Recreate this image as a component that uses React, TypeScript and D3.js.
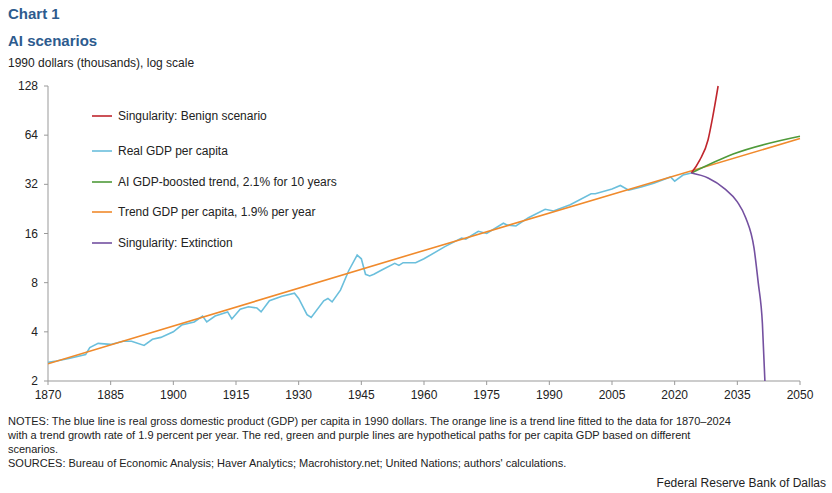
import * as d3 from "d3";
import React from "react";

const yearsReal = [1870,1872,1875,1879,1880,1882,1885,1888,1890,1893,1895,1897,1900,1902,1905,1907,1908,1910,1913,1914,1916,1918,1920,1921,1923,1926,1929,1930,1932,1933,1936,1937,1938,1940,1942,1944,1945,1946,1947,1948,1950,1953,1954,1955,1958,1960,1965,1969,1970,1973,1975,1979,1980,1982,1985,1989,1991,1995,2000,2001,2005,2007,2009,2012,2015,2019,2020,2022,2024];
const realGdp = [2.6,2.65,2.75,2.9,3.2,3.4,3.35,3.5,3.5,3.3,3.6,3.7,4.0,4.4,4.6,5.0,4.6,5.0,5.3,4.8,5.5,5.7,5.6,5.3,6.2,6.6,6.9,6.4,5.1,4.9,6.2,6.4,6.1,7.2,9.5,11.8,11.2,9.0,8.8,9.0,9.6,10.5,10.2,10.6,10.6,11.2,13.3,15.0,14.8,16.5,16.0,18.5,18.0,17.8,20.0,22.5,22.0,24.0,28.0,28.0,30.0,31.5,29.5,30.8,32.5,35.5,33.5,36.5,37.5];
const yearsTrend = [1870, 1960, 2050];
const trendGdp = [2.55, 12.6, 61];
const yearsBoost = [2024, 2034, 2050];
const boostGdp = [37.5, 49, 63];
const yearsBenign = [2024, 2026, 2028, 2029, 2030.4];
const benignGdp = [37.5, 45, 60, 80, 128];
const yearsExt = [2024, 2028, 2032, 2035, 2037, 2039, 2040, 2041, 2041.6];
const extGdp = [37.5, 35, 30, 25, 20, 13, 8, 4.5, 2];
const xTicks = [1870,1885,1900,1915,1930,1945,1960,1975,1990,2005,2020,2035,2050];
const yTicks = [2, 4, 8, 16, 32, 64, 128];

const legend = [
  { label: "Singularity: Benign scenario", color: "#c0262d", y: 116 },
  { label: "Real GDP per capita", color: "#6bbfdc", y: 151 },
  { label: "AI GDP-boosted trend, 2.1% for 10 years", color: "#4f9a3a", y: 182 },
  { label: "Trend GDP per capita, 1.9% per year", color: "#f08a2c", y: 212 },
  { label: "Singularity: Extinction", color: "#7450a0", y: 243 },
];

export default function App() {
  const x = d3.scaleLinear().domain([1870, 2050]).range([48, 800]);
  const y = d3.scaleLog().base(2).domain([2, 128]).range([381, 86]);
  const line = (xs: number[], vs: number[], curve: d3.CurveFactory) =>
    d3.line<number>().x((_, i) => x(xs[i])).y((v) => y(v)).curve(curve)(vs) || "";
  const font = "Arial, 'Liberation Sans', sans-serif";
  const series = [
    { xs: yearsReal, vs: realGdp, c: "#6bbfdc", k: d3.curveLinear },
    { xs: yearsTrend, vs: trendGdp, c: "#f08a2c", k: d3.curveLinear },
    { xs: yearsBoost, vs: boostGdp, c: "#4f9a3a", k: d3.curveMonotoneX },
    { xs: yearsBenign, vs: benignGdp, c: "#c0262d", k: d3.curveMonotoneX },
    { xs: yearsExt, vs: extGdp, c: "#7450a0", k: d3.curveMonotoneX },
  ];
  return (
    <svg width={832} height={493} style={{ position: "absolute", left: 0, top: 0, fontFamily: font }}>
      <rect width={832} height={493} fill="#fff" />
      <text x={8} y={19} fontSize={15} fontWeight="bold" fill="#2d5b8e">Chart 1</text>
      <text x={8} y={46} fontSize={15} fontWeight="bold" fill="#2d5b8e">AI scenarios</text>
      <text x={8} y={67} fontSize={12} fill="#222">1990 dollars (thousands),  log scale</text>
      <defs><clipPath id="pc"><rect x={48} y={80} width={760} height={301} /></clipPath></defs>
      <line x1={48} x2={48} y1={86} y2={381} stroke="#999" />
      <line x1={48} x2={800} y1={381} y2={381} stroke="#999" />
      {yTicks.map((t) => (
        <g key={t}>
          <line x1={44} x2={48} y1={y(t)} y2={y(t)} stroke="#999" />
          <text x={38} y={y(t) + 4} fontSize={12} textAnchor="end" fill="#222">{t}</text>
        </g>
      ))}
      {xTicks.map((t) => (
        <g key={t}>
          <line x1={x(t)} x2={x(t)} y1={381} y2={385} stroke="#999" />
          <text x={x(t)} y={399} fontSize={12} textAnchor="middle" fill="#222">{t}</text>
        </g>
      ))}
      <g clipPath="url(#pc)">
        {series.map((s, i) => (
          <path key={i} d={line(s.xs, s.vs, s.k)} fill="none" stroke={s.c} strokeWidth={1.6} />
        ))}
      </g>
      {legend.map((l) => (
        <g key={l.label}>
          <line x1={92} x2={112} y1={l.y} y2={l.y} stroke={l.color} strokeWidth={1.6} />
          <text x={118} y={l.y + 4} fontSize={12} fill="#222">{l.label}</text>
        </g>
      ))}
      <g fontSize={11} fill="#222">
        <text x={8} y={425}>NOTES: The blue line is real gross domestic product (GDP) per capita in 1990 dollars. The orange line is a trend line fitted to the data for 1870–2024</text>
        <text x={8} y={439}>with a trend growth rate of 1.9 percent per year. The red, green and purple lines are hypothetical paths for per capita GDP based on different</text>
        <text x={8} y={453}>scenarios.</text>
        <text x={8} y={467}>SOURCES: Bureau of Economic Analysis; Haver Analytics; Macrohistory.net; United Nations; authors' calculations.</text>
        <text x={826} y={487} textAnchor="end" fontSize={12}>Federal Reserve Bank of Dallas</text>
      </g>
    </svg>
  );
}
